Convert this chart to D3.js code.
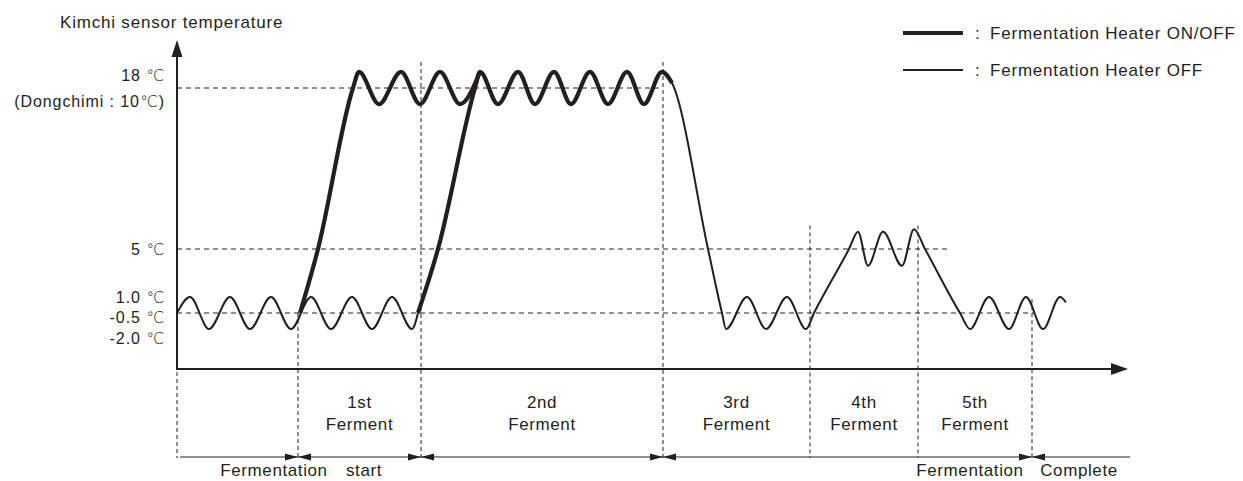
<!DOCTYPE html>
<html>
<head>
<meta charset="utf-8">
<script src="https://cdn.jsdelivr.net/npm/d3@7"></script>
<style>
  body { margin: 0; background: #fff; }
  text { font-family: "Liberation Sans", Arial, sans-serif; fill: #231f20; }
  .deg { font-family: "DejaVu Sans", sans-serif; font-weight: 200; }
</style>
</head>
<body>
<div id="my_chart"></div>
<script>
// time axis is in arbitrary units, temperature in degrees C
const tickValues = [18, 5, 1.0, -0.5, -2.0];
const tickLabels = ["18", "5", "1.0", "-0.5", "-2.0"];
const dongchimiNote = "(Dongchimi : 10";

const phaseNames = ["1st", "2nd", "3rd", "4th", "5th"];
const phaseBounds = [12.1, 24.4, 48.6, 63.3, 74.1, 85.5];
const boundTops = [-0.5, 20.1, 20.1, 6.9, 6.9, 0.8];   // temperature where each dashed divider starts
const arrowBounds = [12.1, 24.4, 48.6, 85.5];

const refValues = [18, 5, -0.5];
const refEnds = [48.6, 77.3, 85.7];

const legendItems = ["Fermentation Heater ON/OFF", "Fermentation Heater OFF"];

// thin curve (heater OFF)
const heaterOffA = [
  [0, -0.5], [1.3, 1.0], [3.2, -2.0], [5.3, 1.0], [7.3, -2.0], [9.4, 1.0], [11.4, -2.0],
  [13.4, 1.0], [15.4, -2.0], [17.5, 1.0], [19.5, -2.0], [21.5, 1.0], [23.5, -2.0], [24.1, -0.5]
];
const heaterOffB = [
  [48.5, 19.3], [49.5, 18.4], [53.1, 5], [54.5, -0.5], [54.9, -2.0], [57.0, 1.0], [58.9, -2.0],
  [61.0, 1.0], [62.9, -2.0], [63.7, -0.5], [67.2, 5], [68.1, 6.4], [69.1, 3.6], [70.6, 6.4],
  [72.5, 3.6], [73.7, 6.6], [74.8, 5], [78.3, -0.5], [79.3, -2.0], [81.2, 1.0], [83.2, -2.0],
  [84.9, 1.0], [86.6, -2.0], [88.3, 1.0], [88.9, 0.5]
];
// thick curves (heater ON/OFF)
const heaterOnA = [
  [12.3, -0.5], [14.1, 5], [17.6, 18], [18.2, 19.3], [20.2, 16.7], [22.4, 19.3],
  [24.3, 16.7], [26.3, 19.3], [28.3, 16.7], [30.3, 19.3]
];
const heaterOnB = [
  [24.1, -0.5], [26.1, 5], [29.8, 18], [30.3, 19.3], [32.1, 16.7], [34.1, 19.3], [35.8, 16.7],
  [37.7, 19.3], [39.4, 16.7], [41.3, 19.3], [43.1, 16.7], [45.0, 19.3], [46.7, 16.7],
  [48.5, 19.3], [49.5, 18.4]
];

function createChart(parentElement) {
  const width = 1243, height = 481;
  const ink = "#231f20";
  const originY = 369;

  const svg = d3.select("#" + parentElement)
    .append("svg")
      .attr("width", width)
      .attr("height", height);

  const x = d3.scaleLinear().domain([0, 95]).range([177, 1127]);
  // schematic scale: piecewise so the guide levels sit where the drawing has them
  const y = d3.scaleLinear().domain([-2, -0.5, 1, 5, 18]).range([329, 313, 297, 249, 88]);

  const line = d3.line()
    .x(d => x(d[0]))
    .y(d => y(d[1]))
    .curve(d3.curveMonotoneX);

  // horizontal guide lines
  svg.append("g")
    .selectAll("line")
    .data(refValues)
    .join("line")
      .attr("x1", x(0))
      .attr("x2", (d, i) => x(refEnds[i]))
      .attr("y1", d => y(d))
      .attr("y2", d => y(d))
      .attr("stroke", ink)
      .attr("stroke-width", 1)
      .attr("stroke-dasharray", "5,4");

  // vertical dividers
  svg.append("g")
    .selectAll("line")
    .data(phaseBounds)
    .join("line")
      .attr("x1", d => x(d))
      .attr("x2", d => x(d))
      .attr("y1", (d, i) => y(boundTops[i]))
      .attr("y2", 458)
      .attr("stroke", ink)
      .attr("stroke-width", 1)
      .attr("stroke-dasharray", "4,3");

  svg.append("line")
    .attr("x1", x(0)).attr("x2", x(0))
    .attr("y1", originY + 3).attr("y2", 458)
    .attr("stroke", ink)
    .attr("stroke-dasharray", "4,3");

  // curves
  [heaterOffA, heaterOffB].forEach(seg => {
    svg.append("path")
      .datum(seg)
      .attr("fill", "none")
      .attr("stroke", ink)
      .attr("stroke-width", 2)
      .attr("stroke-linejoin", "round")
      .attr("d", line);
  });
  [heaterOnA, heaterOnB].forEach(seg => {
    svg.append("path")
      .datum(seg)
      .attr("fill", "none")
      .attr("stroke", ink)
      .attr("stroke-width", 4.2)
      .attr("stroke-linejoin", "round")
      .attr("d", line);
  });

  // axes with arrow heads
  svg.append("line")
    .attr("x1", x(0)).attr("x2", x(0))
    .attr("y1", originY).attr("y2", 55)
    .attr("stroke", ink).attr("stroke-width", 2);
  svg.append("path")
    .attr("d", `M${x(0)},40 L${x(0) + 5.5},57 L${x(0) - 5.5},57 Z`)
    .attr("fill", ink);

  svg.append("line")
    .attr("x1", x(0) - 1).attr("x2", 1114)
    .attr("y1", originY).attr("y2", originY)
    .attr("stroke", ink).attr("stroke-width", 2);
  svg.append("path")
    .attr("d", `M1128,${originY} L1111,${originY - 6} L1111,${originY + 6} Z`)
    .attr("fill", ink);

  svg.append("text")
    .attr("x", 60)
    .attr("y", 28)
    .style("font-size", "17px")
    .style("letter-spacing", "0.8px")
    .text("Kimchi sensor temperature");

  // tick labels, spread a little so they don't collide
  let prev = -Infinity;
  const labelY = tickValues.map((v, i) => {
    let ty = y(v);
    if (i === 0) ty -= 13;                       // leaves room for the Dongchimi note
    else if (ty < prev + 20.5) ty = prev + 20.5;
    prev = ty;
    return ty;
  });

  const ticks = svg.append("g")
    .selectAll("text")
    .data(tickValues)
    .join("text")
      .attr("x", 165)
      .attr("y", (d, i) => labelY[i])
      .attr("dy", "0.36em")
      .attr("text-anchor", "end")
      .style("font-size", "16px")
      .style("letter-spacing", "0.9px");
  ticks.append("tspan").text((d, i) => tickLabels[i] + " ");
  ticks.append("tspan")
    .attr("class", "deg")
    .text("\u2103");

  const note = svg.append("text")
    .attr("x", 165)
    .attr("y", y(18) + 13)
    .attr("dy", "0.36em")
    .attr("text-anchor", "end")
    .style("font-size", "16px")
    .style("letter-spacing", "0.9px");
  note.append("tspan").text(dongchimiNote);
  note.append("tspan")
    .attr("class", "deg")
    .text("\u2103");
  note.append("tspan").text(")");

  // phase labels
  const phaseLabel = svg.append("g")
    .selectAll("text")
    .data(phaseNames)
    .join("text")
      .attr("text-anchor", "middle")
      .style("font-size", "17px")
      .style("letter-spacing", "0.6px");
  phaseLabel.append("tspan")
    .attr("x", (d, i) => x((phaseBounds[i] + phaseBounds[i + 1]) / 2))
    .attr("y", 408)
    .text(d => d);
  phaseLabel.append("tspan")
    .attr("x", (d, i) => x((phaseBounds[i] + phaseBounds[i + 1]) / 2))
    .attr("y", 430)
    .text("Ferment");

  // bottom span line with arrows at each boundary
  const bottomY = 457;
  svg.append("line")
    .attr("x1", x(0.3)).attr("x2", x(95.3))
    .attr("y1", bottomY).attr("y2", bottomY)
    .attr("stroke", ink).attr("stroke-width", 1.2);

  svg.append("g")
    .selectAll("path")
    .data(arrowBounds)
    .join("path")
      .attr("fill", ink)
      .attr("d", d => {
        const bx = x(d);
        return `M${bx},${bottomY} L${bx - 13},${bottomY - 3.5} L${bx - 13},${bottomY + 3.5} Z ` +
               `M${bx},${bottomY} L${bx + 13},${bottomY - 3.5} L${bx + 13},${bottomY + 3.5} Z`;
      });

  const bottomNotes = [
    { text: "Fermentation", at: phaseBounds[0], dx: -24 },
    { text: "start", at: phaseBounds[0], dx: 66 },
    { text: "Fermentation", at: phaseBounds[5], dx: -62 },
    { text: "Complete", at: phaseBounds[5], dx: 47 }
  ];
  svg.append("g")
    .selectAll("text")
    .data(bottomNotes)
    .join("text")
      .attr("x", d => x(d.at) + d.dx)
      .attr("y", 476)
      .attr("text-anchor", "middle")
      .style("font-size", "17px")
      .style("letter-spacing", "0.6px")
      .text(d => d.text);

  // legend
  const legend = svg.append("g");
  legendItems.forEach((label, i) => {
    const item = legend.append("g")
      .attr("transform", `translate(903, ${33 + 37 * i})`);
    item.append("line")
      .attr("x1", 0).attr("x2", 60)
      .attr("stroke", ink)
      .attr("stroke-width", i === 0 ? 4.2 : 1.8);
    item.append("text")
      .attr("x", 72)
      .attr("dy", "0.36em")
      .style("font-size", "17px")
      .text(":");
    item.append("text")
      .attr("x", 87)
      .attr("dy", "0.36em")
      .style("font-size", "17px")
      .style("letter-spacing", "0.8px")
      .text(label);
  });
}

createChart("my_chart");
</script>
</body>
</html>
